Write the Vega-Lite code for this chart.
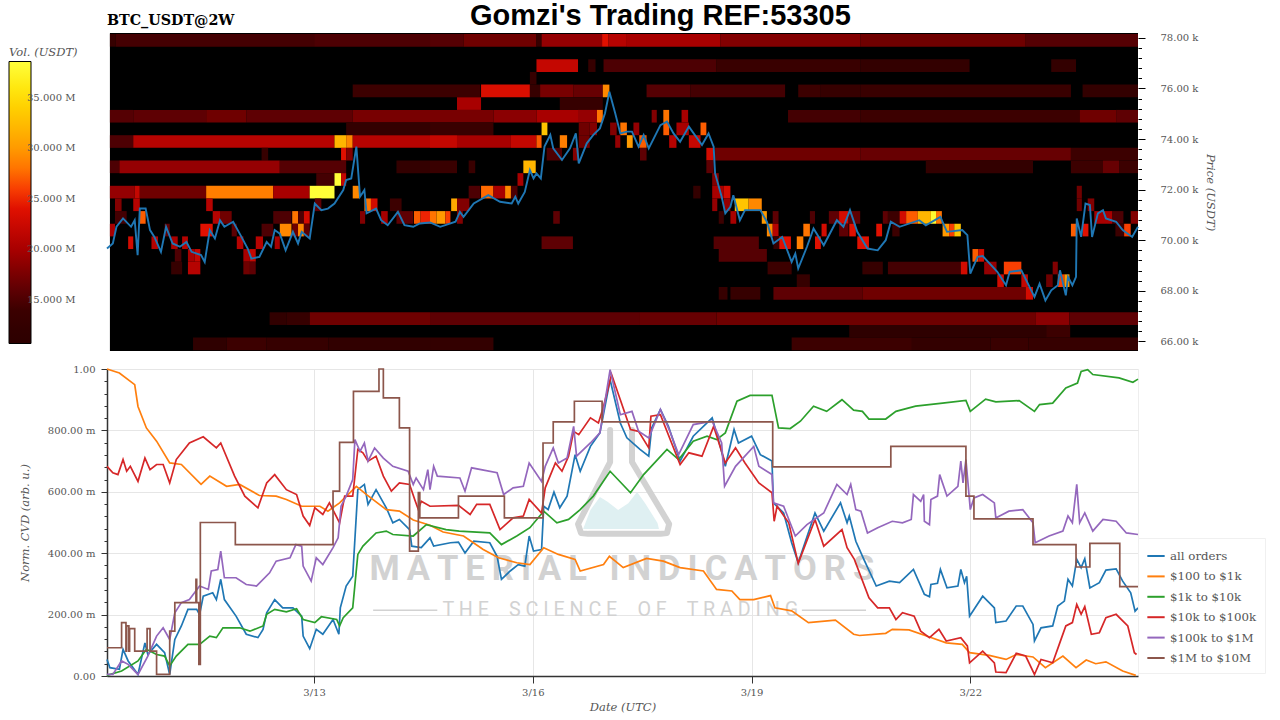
{
"$schema":"https://vega.github.io/schema/vega-lite/v6.json",
"padding":{"left":9,"top":1,"right":10,"bottom":0},
"background":"white",
"config":{"font":"DejaVu Serif","axis":{"labelFontSize":10,"labelColor":"#555555","titleColor":"#555555","titleFontSize":11.5,"titleFontStyle":"italic","titleFontWeight":"normal","labelOverlap":false}},
"datasets":{
"backdrop":[{"d0":10.2,"d1":24.3,"p0":65620,"p1":78190}],
"heat":[
{"d0":10.2,"d1":10.28,"p0":77650,"p1":78150,"v":13},{"d0":10.28,"d1":13.0,"p0":77650,"p1":78150,"v":14.5},{"d0":13.0,"d1":14.59,"p0":77650,"p1":78150,"v":15},{"d0":14.59,"d1":15.05,"p0":77650,"p1":78150,"v":15.5},{"d0":15.05,"d1":16.05,"p0":77650,"p1":78150,"v":17},{"d0":16.05,"d1":16.12,"p0":77650,"p1":78150,"v":13},{"d0":16.12,"d1":16.95,"p0":77650,"p1":78150,"v":19},{"d0":16.95,"d1":17.04,"p0":77650,"p1":78150,"v":24},{"d0":17.04,"d1":17.29,"p0":77650,"p1":78150,"v":21},{"d0":17.29,"d1":18.57,"p0":77650,"p1":78150,"v":20},{"d0":18.57,"d1":20.49,"p0":77650,"p1":78150,"v":18},{"d0":20.49,"d1":22.76,"p0":77650,"p1":78150,"v":17},{"d0":22.76,"d1":24.3,"p0":77650,"p1":78150,"v":15.5},
{"d0":16.05,"d1":16.62,"p0":76650,"p1":77150,"v":22},{"d0":16.76,"d1":16.86,"p0":76650,"p1":77150,"v":13},{"d0":16.97,"d1":18.52,"p0":76650,"p1":77150,"v":15},{"d0":18.52,"d1":20.49,"p0":76650,"p1":77150,"v":13.5},{"d0":20.49,"d1":21.99,"p0":76650,"p1":77150,"v":12.5},{"d0":23.11,"d1":23.45,"p0":76650,"p1":77150,"v":12.5},
{"d0":15.96,"d1":16.05,"p0":76150,"p1":76650,"v":13},
{"d0":13.53,"d1":15.28,"p0":75650,"p1":76150,"v":14},{"d0":15.29,"d1":15.96,"p0":75650,"p1":76150,"v":23.5},{"d0":15.96,"d1":16.1,"p0":75650,"p1":76150,"v":13},{"d0":16.1,"d1":16.56,"p0":75650,"p1":76150,"v":17.5},{"d0":16.56,"d1":16.96,"p0":75650,"p1":76150,"v":16.5},{"d0":16.96,"d1":17.05,"p0":75650,"p1":76150,"v":29},{"d0":17.56,"d1":18.16,"p0":75650,"p1":76150,"v":15.5},{"d0":18.16,"d1":19.46,"p0":75650,"p1":76150,"v":14.5},{"d0":19.64,"d1":19.94,"p0":75650,"p1":76150,"v":14},{"d0":19.94,"d1":20.49,"p0":75650,"p1":76150,"v":13},{"d0":20.49,"d1":23.38,"p0":75650,"p1":76150,"v":13.5},{"d0":23.54,"d1":24.3,"p0":75650,"p1":76150,"v":12.5},
{"d0":14.96,"d1":15.29,"p0":75150,"p1":75650,"v":20},{"d0":16.37,"d1":16.96,"p0":75150,"p1":75650,"v":13},
{"d0":10.2,"d1":10.52,"p0":74650,"p1":75150,"v":15.5},{"d0":10.52,"d1":11.52,"p0":74650,"p1":75150,"v":16},{"d0":11.52,"d1":12.07,"p0":74650,"p1":75150,"v":17},{"d0":12.07,"d1":13.53,"p0":74650,"p1":75150,"v":16},{"d0":13.53,"d1":15.46,"p0":74650,"p1":75150,"v":17.5},{"d0":15.46,"d1":16.05,"p0":74650,"p1":75150,"v":18.5},{"d0":16.05,"d1":16.62,"p0":74650,"p1":75150,"v":20},{"d0":16.62,"d1":16.88,"p0":74650,"p1":75150,"v":19},{"d0":16.88,"d1":16.96,"p0":74650,"p1":75150,"v":28},{"d0":17.63,"d1":17.7,"p0":74650,"p1":75150,"v":18},{"d0":17.79,"d1":17.87,"p0":74650,"p1":75150,"v":28},{"d0":18.04,"d1":18.13,"p0":74650,"p1":75150,"v":20},{"d0":19.5,"d1":20.49,"p0":74650,"p1":75150,"v":14.5},{"d0":20.49,"d1":23.5,"p0":74650,"p1":75150,"v":14},{"d0":23.5,"d1":24.0,"p0":74650,"p1":75150,"v":17},{"d0":24.0,"d1":24.3,"p0":74650,"p1":75150,"v":16},
{"d0":13.44,"d1":14.59,"p0":74150,"p1":74650,"v":12.5},{"d0":14.59,"d1":15.46,"p0":74150,"p1":74650,"v":13.5},{"d0":16.12,"d1":16.2,"p0":74150,"p1":74650,"v":33},{"d0":16.63,"d1":16.78,"p0":74150,"p1":74650,"v":17},{"d0":16.78,"d1":16.88,"p0":74150,"p1":74650,"v":18},{"d0":17.06,"d1":17.15,"p0":74150,"p1":74650,"v":18},{"d0":17.2,"d1":17.29,"p0":74150,"p1":74650,"v":28},{"d0":17.38,"d1":17.46,"p0":74150,"p1":74650,"v":19},{"d0":17.79,"d1":17.87,"p0":74150,"p1":74650,"v":27},{"d0":17.97,"d1":18.14,"p0":74150,"p1":74650,"v":20},{"d0":18.3,"d1":18.38,"p0":74150,"p1":74650,"v":27},
{"d0":10.2,"d1":10.52,"p0":73650,"p1":74150,"v":15},{"d0":10.52,"d1":13.28,"p0":73650,"p1":74150,"v":21},{"d0":13.28,"d1":13.44,"p0":73650,"p1":74150,"v":32},{"d0":13.44,"d1":13.53,"p0":73650,"p1":74150,"v":29},{"d0":13.53,"d1":14.59,"p0":73650,"p1":74150,"v":21},{"d0":14.59,"d1":14.96,"p0":73650,"p1":74150,"v":22},{"d0":14.96,"d1":15.7,"p0":73650,"p1":74150,"v":20},{"d0":15.7,"d1":16.05,"p0":73650,"p1":74150,"v":22},{"d0":16.05,"d1":16.12,"p0":73650,"p1":74150,"v":27},{"d0":16.37,"d1":16.47,"p0":73650,"p1":74150,"v":28.5},{"d0":16.63,"d1":16.78,"p0":73650,"p1":74150,"v":17},{"d0":17.13,"d1":17.2,"p0":73650,"p1":74150,"v":19},{"d0":17.29,"d1":17.37,"p0":73650,"p1":74150,"v":30},{"d0":17.46,"d1":17.56,"p0":73650,"p1":74150,"v":27},{"d0":17.87,"d1":17.97,"p0":73650,"p1":74150,"v":21},{"d0":18.14,"d1":18.3,"p0":73650,"p1":74150,"v":22},
{"d0":12.28,"d1":12.37,"p0":73150,"p1":73650,"v":13},{"d0":13.37,"d1":13.44,"p0":73150,"p1":73650,"v":24},{"d0":13.44,"d1":13.53,"p0":73150,"p1":73650,"v":18},{"d0":16.19,"d1":16.4,"p0":73150,"p1":73650,"v":15},{"d0":16.55,"d1":16.63,"p0":73150,"p1":73650,"v":18},{"d0":17.47,"d1":17.56,"p0":73150,"p1":73650,"v":16},{"d0":18.38,"d1":18.48,"p0":73150,"p1":73650,"v":23},{"d0":18.5,"d1":20.49,"p0":73150,"p1":73650,"v":17},{"d0":20.49,"d1":23.38,"p0":73150,"p1":73650,"v":16.5},{"d0":23.38,"d1":24.3,"p0":73150,"p1":73650,"v":14},
{"d0":10.2,"d1":10.33,"p0":72650,"p1":73150,"v":15},{"d0":10.33,"d1":12.53,"p0":72650,"p1":73150,"v":19},{"d0":12.53,"d1":13.44,"p0":72650,"p1":73150,"v":15.5},{"d0":14.13,"d1":14.59,"p0":72650,"p1":73150,"v":12.5},{"d0":14.59,"d1":14.96,"p0":72650,"p1":73150,"v":13.5},{"d0":15.12,"d1":15.21,"p0":72650,"p1":73150,"v":13.5},{"d0":15.87,"d1":16.04,"p0":72650,"p1":73150,"v":32},{"d0":18.38,"d1":18.48,"p0":72650,"p1":73150,"v":16},{"d0":21.39,"d1":22.86,"p0":72650,"p1":73150,"v":12.5},{"d0":23.38,"d1":23.82,"p0":72650,"p1":73150,"v":14},{"d0":23.82,"d1":24.04,"p0":72650,"p1":73150,"v":16.5},{"d0":24.04,"d1":24.3,"p0":72650,"p1":73150,"v":14},
{"d0":13.03,"d1":13.28,"p0":72150,"p1":72650,"v":14.5},{"d0":13.28,"d1":13.37,"p0":72150,"p1":72650,"v":38.5},{"d0":13.37,"d1":13.44,"p0":72150,"p1":72650,"v":22},{"d0":15.79,"d1":15.87,"p0":72150,"p1":72650,"v":20},{"d0":18.46,"d1":18.55,"p0":72150,"p1":72650,"v":18},
{"d0":10.2,"d1":10.54,"p0":71650,"p1":72150,"v":19},{"d0":10.54,"d1":10.61,"p0":71650,"p1":72150,"v":22},{"d0":10.61,"d1":11.52,"p0":71650,"p1":72150,"v":17},{"d0":11.52,"d1":12.44,"p0":71650,"p1":72150,"v":28.5},{"d0":12.44,"d1":12.94,"p0":71650,"p1":72150,"v":20},{"d0":12.94,"d1":13.28,"p0":71650,"p1":72150,"v":38.5},{"d0":13.53,"d1":13.62,"p0":71650,"p1":72150,"v":29},{"d0":15.12,"d1":15.28,"p0":71650,"p1":72150,"v":15},{"d0":15.29,"d1":15.46,"p0":71650,"p1":72150,"v":27.5},{"d0":15.46,"d1":15.62,"p0":71650,"p1":72150,"v":20},{"d0":15.62,"d1":15.7,"p0":71650,"p1":72150,"v":29},{"d0":15.7,"d1":15.79,"p0":71650,"p1":72150,"v":15},{"d0":18.2,"d1":18.3,"p0":71650,"p1":72150,"v":12.5},{"d0":18.46,"d1":18.62,"p0":71650,"p1":72150,"v":20},{"d0":18.62,"d1":18.71,"p0":71650,"p1":72150,"v":23},{"d0":23.46,"d1":23.53,"p0":71650,"p1":72150,"v":17},
{"d0":10.27,"d1":10.36,"p0":71150,"p1":71650,"v":18},{"d0":10.52,"d1":10.61,"p0":71150,"p1":71650,"v":21},{"d0":11.52,"d1":11.61,"p0":71150,"p1":71650,"v":21},{"d0":13.01,"d1":13.1,"p0":71150,"p1":71650,"v":16},{"d0":13.69,"d1":13.78,"p0":71150,"p1":71650,"v":28},{"d0":13.78,"d1":13.87,"p0":71150,"p1":71650,"v":23},{"d0":14.04,"d1":14.2,"p0":71150,"p1":71650,"v":14},{"d0":14.88,"d1":14.96,"p0":71150,"p1":71650,"v":31},{"d0":14.96,"d1":15.13,"p0":71150,"p1":71650,"v":18},{"d0":18.46,"d1":18.53,"p0":71150,"p1":71650,"v":19},{"d0":18.62,"d1":18.71,"p0":71150,"p1":71650,"v":19},{"d0":18.77,"d1":18.96,"p0":71150,"p1":71650,"v":33},{"d0":18.96,"d1":19.14,"p0":71150,"p1":71650,"v":29},{"d0":23.46,"d1":23.53,"p0":71150,"p1":71650,"v":17},{"d0":23.61,"d1":23.7,"p0":71150,"p1":71650,"v":18},
{"d0":10.27,"d1":10.43,"p0":70650,"p1":71150,"v":14.5},{"d0":10.6,"d1":10.69,"p0":70650,"p1":71150,"v":27},{"d0":11.61,"d1":11.71,"p0":70650,"p1":71150,"v":21},{"d0":11.71,"d1":11.87,"p0":70650,"p1":71150,"v":17},{"d0":12.44,"d1":12.69,"p0":70650,"p1":71150,"v":15},{"d0":12.7,"d1":12.78,"p0":70650,"p1":71150,"v":28},{"d0":12.78,"d1":12.86,"p0":70650,"p1":71150,"v":15},{"d0":12.86,"d1":12.94,"p0":70650,"p1":71150,"v":23},{"d0":13.63,"d1":13.7,"p0":70650,"p1":71150,"v":18},{"d0":13.92,"d1":14.01,"p0":70650,"p1":71150,"v":20},{"d0":14.13,"d1":14.36,"p0":70650,"p1":71150,"v":16},{"d0":14.37,"d1":14.46,"p0":70650,"p1":71150,"v":27},{"d0":14.46,"d1":14.59,"p0":70650,"p1":71150,"v":25},{"d0":14.59,"d1":14.68,"p0":70650,"p1":71150,"v":28},{"d0":14.68,"d1":14.8,"p0":70650,"p1":71150,"v":30},{"d0":14.8,"d1":14.87,"p0":70650,"p1":71150,"v":26},{"d0":14.96,"d1":15.04,"p0":70650,"p1":71150,"v":18},{"d0":16.28,"d1":16.37,"p0":70650,"p1":71150,"v":16},{"d0":18.55,"d1":18.62,"p0":70650,"p1":71150,"v":14},{"d0":18.71,"d1":18.79,"p0":70650,"p1":71150,"v":20},{"d0":19.14,"d1":19.21,"p0":70650,"p1":71150,"v":30},{"d0":19.29,"d1":19.37,"p0":70650,"p1":71150,"v":16},{"d0":19.8,"d1":19.87,"p0":70650,"p1":71150,"v":15},{"d0":20.06,"d1":20.2,"p0":70650,"p1":71150,"v":16},{"d0":20.2,"d1":20.33,"p0":70650,"p1":71150,"v":23},{"d0":20.33,"d1":20.49,"p0":70650,"p1":71150,"v":16},{"d0":20.8,"d1":20.87,"p0":70650,"p1":71150,"v":16},{"d0":20.87,"d1":21.03,"p0":70650,"p1":71150,"v":14},{"d0":21.03,"d1":21.12,"p0":70650,"p1":71150,"v":23},{"d0":21.12,"d1":21.28,"p0":70650,"p1":71150,"v":27},{"d0":21.28,"d1":21.46,"p0":70650,"p1":71150,"v":32},{"d0":21.46,"d1":21.53,"p0":70650,"p1":71150,"v":38},{"d0":21.53,"d1":21.61,"p0":70650,"p1":71150,"v":28},{"d0":23.7,"d1":23.95,"p0":70650,"p1":71150,"v":20},{"d0":23.95,"d1":24.1,"p0":70650,"p1":71150,"v":15},{"d0":24.2,"d1":24.3,"p0":70650,"p1":71150,"v":18},
{"d0":10.2,"d1":10.27,"p0":70150,"p1":70650,"v":20},{"d0":10.95,"d1":11.02,"p0":70150,"p1":70650,"v":16},{"d0":11.44,"d1":11.61,"p0":70150,"p1":70650,"v":24},{"d0":11.87,"d1":11.94,"p0":70150,"p1":70650,"v":16},{"d0":12.28,"d1":12.44,"p0":70150,"p1":70650,"v":15},{"d0":12.53,"d1":12.69,"p0":70150,"p1":70650,"v":29},{"d0":12.7,"d1":12.78,"p0":70150,"p1":70650,"v":17},{"d0":12.78,"d1":12.86,"p0":70150,"p1":70650,"v":29},{"d0":12.86,"d1":12.94,"p0":70150,"p1":70650,"v":16},{"d0":19.21,"d1":19.29,"p0":70150,"p1":70650,"v":29},{"d0":19.29,"d1":19.37,"p0":70150,"p1":70650,"v":21},{"d0":19.71,"d1":19.8,"p0":70150,"p1":70650,"v":28},{"d0":19.96,"d1":20.03,"p0":70150,"p1":70650,"v":23},{"d0":20.2,"d1":20.33,"p0":70150,"p1":70650,"v":16},{"d0":20.34,"d1":20.43,"p0":70150,"p1":70650,"v":24},{"d0":20.71,"d1":20.79,"p0":70150,"p1":70650,"v":24},{"d0":20.93,"d1":21.03,"p0":70150,"p1":70650,"v":14},{"d0":21.62,"d1":21.71,"p0":70150,"p1":70650,"v":30},{"d0":21.71,"d1":21.78,"p0":70150,"p1":70650,"v":26},{"d0":21.78,"d1":21.87,"p0":70150,"p1":70650,"v":33},{"d0":23.38,"d1":23.45,"p0":70150,"p1":70650,"v":27},{"d0":23.54,"d1":23.62,"p0":70150,"p1":70650,"v":24},{"d0":23.99,"d1":24.11,"p0":70150,"p1":70650,"v":14},{"d0":24.11,"d1":24.2,"p0":70150,"p1":70650,"v":26},
{"d0":10.45,"d1":10.52,"p0":69650,"p1":70150,"v":23},{"d0":10.77,"d1":10.86,"p0":69650,"p1":70150,"v":21},{"d0":11.04,"d1":11.13,"p0":69650,"p1":70150,"v":20},{"d0":11.19,"d1":11.27,"p0":69650,"p1":70150,"v":21},{"d0":11.94,"d1":12.03,"p0":69650,"p1":70150,"v":21},{"d0":12.2,"d1":12.3,"p0":69650,"p1":70150,"v":21},{"d0":12.46,"d1":12.53,"p0":69650,"p1":70150,"v":20},{"d0":16.12,"d1":16.55,"p0":69650,"p1":70150,"v":16},{"d0":18.48,"d1":19.1,"p0":69650,"p1":70150,"v":15.5},{"d0":19.3,"d1":19.38,"p0":69650,"p1":70150,"v":13},{"d0":19.38,"d1":19.54,"p0":69650,"p1":70150,"v":24},{"d0":19.62,"d1":19.71,"p0":69650,"p1":70150,"v":28.5},{"d0":19.87,"d1":19.95,"p0":69650,"p1":70150,"v":24},{"d0":20.45,"d1":20.61,"p0":69650,"p1":70150,"v":24},
{"d0":11.09,"d1":11.18,"p0":69150,"p1":69650,"v":15},{"d0":11.27,"d1":11.36,"p0":69150,"p1":69650,"v":20},{"d0":11.36,"d1":11.44,"p0":69150,"p1":69650,"v":22},{"d0":12.03,"d1":12.12,"p0":69150,"p1":69650,"v":20},{"d0":12.12,"d1":12.2,"p0":69150,"p1":69650,"v":22},{"d0":18.55,"d1":19.21,"p0":69150,"p1":69650,"v":15.5},{"d0":22.03,"d1":22.11,"p0":69150,"p1":69650,"v":27},{"d0":22.11,"d1":22.19,"p0":69150,"p1":69650,"v":23},
{"d0":11.27,"d1":11.44,"p0":68650,"p1":69150,"v":21},{"d0":11.04,"d1":11.19,"p0":68650,"p1":69150,"v":13},{"d0":12.03,"d1":12.12,"p0":68650,"p1":69150,"v":17},{"d0":12.12,"d1":12.2,"p0":68650,"p1":69150,"v":16},{"d0":19.22,"d1":19.55,"p0":68650,"p1":69150,"v":14},{"d0":20.52,"d1":20.8,"p0":68650,"p1":69150,"v":13},{"d0":20.87,"d1":21.87,"p0":68650,"p1":69150,"v":14.5},{"d0":21.87,"d1":21.96,"p0":68650,"p1":69150,"v":23},{"d0":22.19,"d1":22.36,"p0":68650,"p1":69150,"v":19},{"d0":22.46,"d1":22.7,"p0":68650,"p1":69150,"v":26},{"d0":23.13,"d1":23.2,"p0":68650,"p1":69150,"v":18},
{"d0":19.62,"d1":19.8,"p0":68150,"p1":68650,"v":13},{"d0":22.37,"d1":22.46,"p0":68150,"p1":68650,"v":23},{"d0":22.7,"d1":22.79,"p0":68150,"p1":68650,"v":22},{"d0":23.04,"d1":23.13,"p0":68150,"p1":68650,"v":17},{"d0":23.2,"d1":23.29,"p0":68150,"p1":68650,"v":26},{"d0":23.29,"d1":23.36,"p0":68150,"p1":68650,"v":30},
{"d0":18.55,"d1":18.67,"p0":67650,"p1":68150,"v":13},{"d0":18.71,"d1":19.12,"p0":67650,"p1":68150,"v":13},{"d0":19.3,"d1":20.52,"p0":67650,"p1":68150,"v":16},{"d0":20.52,"d1":22.76,"p0":67650,"p1":68150,"v":17},{"d0":22.76,"d1":22.86,"p0":67650,"p1":68150,"v":23},
{"d0":12.39,"d1":12.62,"p0":66650,"p1":67150,"v":12},{"d0":12.62,"d1":12.94,"p0":66650,"p1":67150,"v":13},{"d0":12.94,"d1":14.59,"p0":66650,"p1":67150,"v":17},{"d0":14.59,"d1":17.47,"p0":66650,"p1":67150,"v":16},{"d0":17.47,"d1":18.52,"p0":66650,"p1":67150,"v":16.5},{"d0":18.52,"d1":22.9,"p0":66650,"p1":67150,"v":17},{"d0":22.9,"d1":23.36,"p0":66650,"p1":67150,"v":18.5},{"d0":23.36,"d1":24.3,"p0":66650,"p1":67150,"v":16},
{"d0":20.34,"d1":23.04,"p0":66150,"p1":66650,"v":11},{"d0":23.04,"d1":23.37,"p0":66150,"p1":66650,"v":14},
{"d0":11.34,"d1":11.8,"p0":65650,"p1":66150,"v":11.5},{"d0":11.8,"d1":12.35,"p0":65650,"p1":66150,"v":14},{"d0":12.35,"d1":13.2,"p0":65650,"p1":66150,"v":13},{"d0":13.2,"d1":14.59,"p0":65650,"p1":66150,"v":12},{"d0":14.59,"d1":15.46,"p0":65650,"p1":66150,"v":12.5},{"d0":19.55,"d1":21.2,"p0":65650,"p1":66150,"v":14},{"d0":21.2,"d1":22.28,"p0":65650,"p1":66150,"v":12.5},{"d0":22.28,"d1":22.8,"p0":65650,"p1":66150,"v":13.5},{"d0":22.8,"d1":24.3,"p0":65650,"p1":66150,"v":13}
],
"price":[
{"d":10.16,"p":69670},{"d":10.24,"p":69870},{"d":10.29,"p":70530},{"d":10.38,"p":70860},{"d":10.49,"p":70530},{"d":10.54,"p":70790},{"d":10.58,"p":69410},{"d":10.61,"p":71250},{"d":10.69,"p":71250},{"d":10.75,"p":70400},{"d":10.81,"p":70130},{"d":10.9,"p":69540},{"d":10.97,"p":70530},{"d":11.06,"p":69870},{"d":11.16,"p":69740},{"d":11.25,"p":69930},{"d":11.32,"p":69540},{"d":11.45,"p":69410},{"d":11.5,"p":69140},{"d":11.57,"p":70400},{"d":11.64,"p":70070},{"d":11.71,"p":70790},{"d":11.77,"p":70530},{"d":11.89,"p":70730},{"d":11.98,"p":70260},{"d":12.09,"p":69670},{"d":12.14,"p":69270},{"d":12.25,"p":69340},{"d":12.35,"p":69930},{"d":12.41,"p":69740},{"d":12.46,"p":70400},{"d":12.53,"p":70260},{"d":12.61,"p":69600},{"d":12.71,"p":70330},{"d":12.78,"p":69870},{"d":12.83,"p":70330},{"d":12.94,"p":70070},{"d":13.01,"p":71450},{"d":13.1,"p":71190},{"d":13.19,"p":71250},{"d":13.28,"p":71450},{"d":13.4,"p":71980},{"d":13.44,"p":72380},{"d":13.51,"p":72440},{"d":13.58,"p":73700},{"d":13.63,"p":71720},{"d":13.69,"p":71980},{"d":13.72,"p":71060},{"d":13.85,"p":71250},{"d":13.92,"p":70790},{"d":14.01,"p":70590},{"d":14.15,"p":71120},{"d":14.24,"p":70590},{"d":14.36,"p":70530},{"d":14.45,"p":70660},{"d":14.59,"p":70700},{"d":14.73,"p":70530},{"d":14.94,"p":70730},{"d":15.0,"p":71120},{"d":15.05,"p":70920},{"d":15.19,"p":71450},{"d":15.39,"p":71780},{"d":15.55,"p":71520},{"d":15.71,"p":71450},{"d":15.76,"p":71720},{"d":15.8,"p":71450},{"d":15.89,"p":71910},{"d":15.96,"p":72770},{"d":16.01,"p":72440},{"d":16.05,"p":72640},{"d":16.11,"p":72440},{"d":16.16,"p":73700},{"d":16.24,"p":74160},{"d":16.28,"p":73630},{"d":16.4,"p":73170},{"d":16.51,"p":73630},{"d":16.59,"p":74220},{"d":16.63,"p":73040},{"d":16.74,"p":73830},{"d":16.83,"p":74160},{"d":16.92,"p":74420},{"d":16.99,"p":75020},{"d":17.05,"p":75870},{"d":17.13,"p":75020},{"d":17.2,"p":74220},{"d":17.29,"p":74290},{"d":17.36,"p":74290},{"d":17.45,"p":73700},{"d":17.52,"p":74160},{"d":17.59,"p":73630},{"d":17.75,"p":74550},{"d":17.84,"p":74690},{"d":17.93,"p":74220},{"d":18.02,"p":73890},{"d":18.14,"p":74490},{"d":18.32,"p":73760},{"d":18.41,"p":74220},{"d":18.48,"p":73700},{"d":18.5,"p":72640},{"d":18.59,"p":71720},{"d":18.64,"p":71060},{"d":18.71,"p":71320},{"d":18.75,"p":71780},{"d":18.84,"p":70790},{"d":18.91,"p":71190},{"d":19.12,"p":71190},{"d":19.21,"p":70730},{"d":19.3,"p":69870},{"d":19.42,"p":70130},{"d":19.55,"p":69140},{"d":19.6,"p":69470},{"d":19.64,"p":68880},{"d":19.76,"p":69740},{"d":19.85,"p":70460},{"d":19.99,"p":69800},{"d":20.17,"p":70790},{"d":20.26,"p":70530},{"d":20.35,"p":71190},{"d":20.45,"p":70330},{"d":20.59,"p":69670},{"d":20.73,"p":69600},{"d":20.84,"p":70000},{"d":20.91,"p":70730},{"d":21.03,"p":70530},{"d":21.3,"p":70790},{"d":21.39,"p":70590},{"d":21.59,"p":70920},{"d":21.68,"p":70330},{"d":21.89,"p":70400},{"d":21.96,"p":70200},{"d":22.0,"p":68680},{"d":22.1,"p":69340},{"d":22.17,"p":69370},{"d":22.33,"p":68880},{"d":22.37,"p":68750},{"d":22.49,"p":68220},{"d":22.54,"p":68750},{"d":22.7,"p":68810},{"d":22.88,"p":67760},{"d":22.95,"p":68280},{"d":23.03,"p":67620},{"d":23.11,"p":68020},{"d":23.2,"p":68220},{"d":23.23,"p":68810},{"d":23.31,"p":67820},{"d":23.34,"p":68550},{"d":23.4,"p":68220},{"d":23.45,"p":68550},{"d":23.46,"p":70860},{"d":23.52,"p":70130},{"d":23.58,"p":71450},{"d":23.64,"p":71390},{"d":23.67,"p":70130},{"d":23.75,"p":71060},{"d":23.82,"p":71190},{"d":23.86,"p":70860},{"d":24.0,"p":70730},{"d":24.09,"p":70400},{"d":24.22,"p":70130},{"d":24.3,"p":70530}
],
"cvd":[
{"s":"all orders","d":10.16,"v":0.054},{"s":"all orders","d":10.2,"v":0.027},{"s":"all orders","d":10.33,"v":0.022},{"s":"all orders","d":10.38,"v":0.087},{"s":"all orders","d":10.45,"v":0.049},{"s":"all orders","d":10.585,"v":0.005},{"s":"all orders","d":10.68,"v":0.108},{"s":"all orders","d":10.72,"v":0.07},{"s":"all orders","d":10.84,"v":0.103},{"s":"all orders","d":10.95,"v":0.076},{"s":"all orders","d":11.02,"v":0.005},{"s":"all orders","d":11.09,"v":0.119},{"s":"all orders","d":11.18,"v":0.163},{"s":"all orders","d":11.27,"v":0.217},{"s":"all orders","d":11.39,"v":0.217},{"s":"all orders","d":11.43,"v":0.2},{"s":"all orders","d":11.48,"v":0.26},{"s":"all orders","d":11.61,"v":0.271},{"s":"all orders","d":11.66,"v":0.249},{"s":"all orders","d":11.72,"v":0.315},{"s":"all orders","d":11.77,"v":0.249},{"s":"all orders","d":11.93,"v":0.195},{"s":"all orders","d":12.07,"v":0.136},{"s":"all orders","d":12.23,"v":0.125},{"s":"all orders","d":12.3,"v":0.152},{"s":"all orders","d":12.35,"v":0.206},{"s":"all orders","d":12.46,"v":0.249},{"s":"all orders","d":12.57,"v":0.222},{"s":"all orders","d":12.71,"v":0.222},{"s":"all orders","d":12.83,"v":0.195},{"s":"all orders","d":12.85,"v":0.13},{"s":"all orders","d":12.94,"v":0.089},{"s":"all orders","d":13.03,"v":0.152},{"s":"all orders","d":13.12,"v":0.136},{"s":"all orders","d":13.26,"v":0.184},{"s":"all orders","d":13.34,"v":0.136},{"s":"all orders","d":13.36,"v":0.222},{"s":"all orders","d":13.44,"v":0.293},{"s":"all orders","d":13.53,"v":0.325},{"s":"all orders","d":13.6,"v":0.607},{"s":"all orders","d":13.69,"v":0.624},{"s":"all orders","d":13.74,"v":0.559},{"s":"all orders","d":13.85,"v":0.607},{"s":"all orders","d":13.99,"v":0.548},{"s":"all orders","d":14.08,"v":0.499},{"s":"all orders","d":14.17,"v":0.51},{"s":"all orders","d":14.31,"v":0.477},{"s":"all orders","d":14.34,"v":0.423},{"s":"all orders","d":14.47,"v":0.418},{"s":"all orders","d":14.59,"v":0.45},{"s":"all orders","d":14.64,"v":0.423},{"s":"all orders","d":14.87,"v":0.434},{"s":"all orders","d":14.98,"v":0.436},{"s":"all orders","d":15.07,"v":0.401},{"s":"all orders","d":15.19,"v":0.439},{"s":"all orders","d":15.41,"v":0.434},{"s":"all orders","d":15.51,"v":0.39},{"s":"all orders","d":15.57,"v":0.315},{"s":"all orders","d":15.69,"v":0.342},{"s":"all orders","d":15.8,"v":0.363},{"s":"all orders","d":15.89,"v":0.358},{"s":"all orders","d":15.95,"v":0.456},{"s":"all orders","d":16.01,"v":0.407},{"s":"all orders","d":16.12,"v":0.412},{"s":"all orders","d":16.15,"v":0.553},{"s":"all orders","d":16.21,"v":0.542},{"s":"all orders","d":16.29,"v":0.599},{"s":"all orders","d":16.37,"v":0.548},{"s":"all orders","d":16.47,"v":0.586},{"s":"all orders","d":16.58,"v":0.721},{"s":"all orders","d":16.65,"v":0.667},{"s":"all orders","d":16.79,"v":0.748},{"s":"all orders","d":16.92,"v":0.792},{"s":"all orders","d":17.06,"v":0.965},{"s":"all orders","d":17.2,"v":0.824},{"s":"all orders","d":17.29,"v":0.776},{"s":"all orders","d":17.47,"v":0.738},{"s":"all orders","d":17.59,"v":0.716},{"s":"all orders","d":17.63,"v":0.808},{"s":"all orders","d":17.75,"v":0.868},{"s":"all orders","d":17.86,"v":0.813},{"s":"all orders","d":18.02,"v":0.7},{"s":"all orders","d":18.2,"v":0.781},{"s":"all orders","d":18.46,"v":0.841},{"s":"all orders","d":18.57,"v":0.748},{"s":"all orders","d":18.64,"v":0.683},{"s":"all orders","d":18.76,"v":0.803},{"s":"all orders","d":18.82,"v":0.759},{"s":"all orders","d":19.0,"v":0.781},{"s":"all orders","d":19.12,"v":0.721},{"s":"all orders","d":19.28,"v":0.7},{"s":"all orders","d":19.3,"v":0.564},{"s":"all orders","d":19.44,"v":0.531},{"s":"all orders","d":19.55,"v":0.434},{"s":"all orders","d":19.64,"v":0.369},{"s":"all orders","d":19.87,"v":0.531},{"s":"all orders","d":19.99,"v":0.472},{"s":"all orders","d":20.22,"v":0.564},{"s":"all orders","d":20.31,"v":0.499},{"s":"all orders","d":20.34,"v":0.521},{"s":"all orders","d":20.43,"v":0.439},{"s":"all orders","d":20.54,"v":0.38},{"s":"all orders","d":20.71,"v":0.293},{"s":"all orders","d":20.89,"v":0.309},{"s":"all orders","d":21.03,"v":0.304},{"s":"all orders","d":21.22,"v":0.347},{"s":"all orders","d":21.37,"v":0.266},{"s":"all orders","d":21.44,"v":0.258},{"s":"all orders","d":21.46,"v":0.298},{"s":"all orders","d":21.55,"v":0.302},{"s":"all orders","d":21.59,"v":0.347},{"s":"all orders","d":21.68,"v":0.287},{"s":"all orders","d":21.83,"v":0.293},{"s":"all orders","d":21.87,"v":0.347},{"s":"all orders","d":21.92,"v":0.304},{"s":"all orders","d":21.95,"v":0.325},{"s":"all orders","d":21.99,"v":0.195},{"s":"all orders","d":22.17,"v":0.26},{"s":"all orders","d":22.33,"v":0.222},{"s":"all orders","d":22.35,"v":0.174},{"s":"all orders","d":22.49,"v":0.179},{"s":"all orders","d":22.63,"v":0.228},{"s":"all orders","d":22.72,"v":0.228},{"s":"all orders","d":22.86,"v":0.168},{"s":"all orders","d":22.88,"v":0.114},{"s":"all orders","d":22.97,"v":0.157},{"s":"all orders","d":23.13,"v":0.163},{"s":"all orders","d":23.2,"v":0.228},{"s":"all orders","d":23.29,"v":0.244},{"s":"all orders","d":23.34,"v":0.315},{"s":"all orders","d":23.4,"v":0.293},{"s":"all orders","d":23.46,"v":0.38},{"s":"all orders","d":23.52,"v":0.353},{"s":"all orders","d":23.57,"v":0.382},{"s":"all orders","d":23.64,"v":0.287},{"s":"all orders","d":23.77,"v":0.304},{"s":"all orders","d":23.86,"v":0.345},{"s":"all orders","d":24.0,"v":0.349},{"s":"all orders","d":24.09,"v":0.309},{"s":"all orders","d":24.2,"v":0.271},{"s":"all orders","d":24.26,"v":0.211},{"s":"all orders","d":24.3,"v":0.222},
{"s":"$100 to $1k","d":10.16,"v":1.0},{"s":"$100 to $1k","d":10.33,"v":0.987},{"s":"$100 to $1k","d":10.54,"v":0.949},{"s":"$100 to $1k","d":10.585,"v":0.878},{"s":"$100 to $1k","d":10.7,"v":0.808},{"s":"$100 to $1k","d":10.84,"v":0.765},{"s":"$100 to $1k","d":11.02,"v":0.694},{"s":"$100 to $1k","d":11.18,"v":0.689},{"s":"$100 to $1k","d":11.45,"v":0.624},{"s":"$100 to $1k","d":11.57,"v":0.651},{"s":"$100 to $1k","d":11.8,"v":0.618},{"s":"$100 to $1k","d":11.98,"v":0.624},{"s":"$100 to $1k","d":12.25,"v":0.588},{"s":"$100 to $1k","d":12.48,"v":0.586},{"s":"$100 to $1k","d":12.62,"v":0.575},{"s":"$100 to $1k","d":12.83,"v":0.553},{"s":"$100 to $1k","d":13.08,"v":0.553},{"s":"$100 to $1k","d":13.19,"v":0.537},{"s":"$100 to $1k","d":13.35,"v":0.564},{"s":"$100 to $1k","d":13.58,"v":0.618},{"s":"$100 to $1k","d":13.72,"v":0.591},{"s":"$100 to $1k","d":13.99,"v":0.542},{"s":"$100 to $1k","d":14.17,"v":0.537},{"s":"$100 to $1k","d":14.36,"v":0.508},{"s":"$100 to $1k","d":14.59,"v":0.491},{"s":"$100 to $1k","d":14.77,"v":0.469},{"s":"$100 to $1k","d":15.05,"v":0.456},{"s":"$100 to $1k","d":15.32,"v":0.412},{"s":"$100 to $1k","d":15.53,"v":0.385},{"s":"$100 to $1k","d":15.78,"v":0.369},{"s":"$100 to $1k","d":15.96,"v":0.363},{"s":"$100 to $1k","d":16.15,"v":0.418},{"s":"$100 to $1k","d":16.35,"v":0.396},{"s":"$100 to $1k","d":16.58,"v":0.38},{"s":"$100 to $1k","d":16.65,"v":0.342},{"s":"$100 to $1k","d":16.97,"v":0.363},{"s":"$100 to $1k","d":17.05,"v":0.39},{"s":"$100 to $1k","d":17.24,"v":0.353},{"s":"$100 to $1k","d":17.56,"v":0.383},{"s":"$100 to $1k","d":17.79,"v":0.374},{"s":"$100 to $1k","d":18.02,"v":0.353},{"s":"$100 to $1k","d":18.34,"v":0.342},{"s":"$100 to $1k","d":18.52,"v":0.282},{"s":"$100 to $1k","d":18.73,"v":0.277},{"s":"$100 to $1k","d":18.84,"v":0.249},{"s":"$100 to $1k","d":19.03,"v":0.249},{"s":"$100 to $1k","d":19.26,"v":0.262},{"s":"$100 to $1k","d":19.32,"v":0.222},{"s":"$100 to $1k","d":19.55,"v":0.212},{"s":"$100 to $1k","d":19.78,"v":0.174},{"s":"$100 to $1k","d":20.15,"v":0.182},{"s":"$100 to $1k","d":20.4,"v":0.136},{"s":"$100 to $1k","d":20.48,"v":0.132},{"s":"$100 to $1k","d":20.84,"v":0.139},{"s":"$100 to $1k","d":20.93,"v":0.152},{"s":"$100 to $1k","d":21.16,"v":0.15},{"s":"$100 to $1k","d":21.44,"v":0.127},{"s":"$100 to $1k","d":21.67,"v":0.108},{"s":"$100 to $1k","d":21.89,"v":0.103},{"s":"$100 to $1k","d":21.99,"v":0.076},{"s":"$100 to $1k","d":22.26,"v":0.067},{"s":"$100 to $1k","d":22.49,"v":0.054},{"s":"$100 to $1k","d":22.63,"v":0.07},{"s":"$100 to $1k","d":22.86,"v":0.062},{"s":"$100 to $1k","d":23.03,"v":0.027},{"s":"$100 to $1k","d":23.27,"v":0.065},{"s":"$100 to $1k","d":23.45,"v":0.027},{"s":"$100 to $1k","d":23.59,"v":0.052},{"s":"$100 to $1k","d":23.72,"v":0.04},{"s":"$100 to $1k","d":23.86,"v":0.046},{"s":"$100 to $1k","d":24.09,"v":0.016},{"s":"$100 to $1k","d":24.27,"v":0.002},
{"s":"$1k to $10k","d":10.16,"v":0.002},{"s":"$1k to $10k","d":10.36,"v":0.016},{"s":"$1k to $10k","d":10.585,"v":0.049},{"s":"$1k to $10k","d":10.7,"v":0.087},{"s":"$1k to $10k","d":10.84,"v":0.07},{"s":"$1k to $10k","d":10.95,"v":0.065},{"s":"$1k to $10k","d":11.02,"v":0.033},{"s":"$1k to $10k","d":11.11,"v":0.065},{"s":"$1k to $10k","d":11.27,"v":0.103},{"s":"$1k to $10k","d":11.43,"v":0.103},{"s":"$1k to $10k","d":11.57,"v":0.13},{"s":"$1k to $10k","d":11.66,"v":0.125},{"s":"$1k to $10k","d":11.75,"v":0.157},{"s":"$1k to $10k","d":11.98,"v":0.157},{"s":"$1k to $10k","d":12.12,"v":0.146},{"s":"$1k to $10k","d":12.3,"v":0.163},{"s":"$1k to $10k","d":12.35,"v":0.201},{"s":"$1k to $10k","d":12.46,"v":0.217},{"s":"$1k to $10k","d":12.62,"v":0.209},{"s":"$1k to $10k","d":12.76,"v":0.219},{"s":"$1k to $10k","d":12.85,"v":0.184},{"s":"$1k to $10k","d":13.01,"v":0.174},{"s":"$1k to $10k","d":13.1,"v":0.193},{"s":"$1k to $10k","d":13.31,"v":0.184},{"s":"$1k to $10k","d":13.35,"v":0.163},{"s":"$1k to $10k","d":13.4,"v":0.19},{"s":"$1k to $10k","d":13.53,"v":0.222},{"s":"$1k to $10k","d":13.6,"v":0.396},{"s":"$1k to $10k","d":13.67,"v":0.423},{"s":"$1k to $10k","d":13.85,"v":0.466},{"s":"$1k to $10k","d":13.99,"v":0.472},{"s":"$1k to $10k","d":14.08,"v":0.461},{"s":"$1k to $10k","d":14.36,"v":0.456},{"s":"$1k to $10k","d":14.54,"v":0.493},{"s":"$1k to $10k","d":14.81,"v":0.477},{"s":"$1k to $10k","d":14.99,"v":0.472},{"s":"$1k to $10k","d":15.41,"v":0.466},{"s":"$1k to $10k","d":15.57,"v":0.428},{"s":"$1k to $10k","d":15.78,"v":0.456},{"s":"$1k to $10k","d":15.96,"v":0.483},{"s":"$1k to $10k","d":16.15,"v":0.537},{"s":"$1k to $10k","d":16.33,"v":0.499},{"s":"$1k to $10k","d":16.49,"v":0.51},{"s":"$1k to $10k","d":16.65,"v":0.542},{"s":"$1k to $10k","d":16.83,"v":0.586},{"s":"$1k to $10k","d":17.06,"v":0.667},{"s":"$1k to $10k","d":17.34,"v":0.597},{"s":"$1k to $10k","d":17.52,"v":0.656},{"s":"$1k to $10k","d":17.84,"v":0.738},{"s":"$1k to $10k","d":18.0,"v":0.705},{"s":"$1k to $10k","d":18.2,"v":0.765},{"s":"$1k to $10k","d":18.39,"v":0.781},{"s":"$1k to $10k","d":18.52,"v":0.77},{"s":"$1k to $10k","d":18.64,"v":0.792},{"s":"$1k to $10k","d":18.8,"v":0.895},{"s":"$1k to $10k","d":18.98,"v":0.914},{"s":"$1k to $10k","d":19.28,"v":0.914},{"s":"$1k to $10k","d":19.37,"v":0.808},{"s":"$1k to $10k","d":19.53,"v":0.806},{"s":"$1k to $10k","d":19.67,"v":0.83},{"s":"$1k to $10k","d":19.85,"v":0.879},{"s":"$1k to $10k","d":20.03,"v":0.862},{"s":"$1k to $10k","d":20.24,"v":0.9},{"s":"$1k to $10k","d":20.4,"v":0.866},{"s":"$1k to $10k","d":20.52,"v":0.862},{"s":"$1k to $10k","d":20.61,"v":0.837},{"s":"$1k to $10k","d":20.84,"v":0.837},{"s":"$1k to $10k","d":20.98,"v":0.862},{"s":"$1k to $10k","d":21.25,"v":0.879},{"s":"$1k to $10k","d":21.62,"v":0.889},{"s":"$1k to $10k","d":21.94,"v":0.898},{"s":"$1k to $10k","d":22.0,"v":0.862},{"s":"$1k to $10k","d":22.21,"v":0.902},{"s":"$1k to $10k","d":22.35,"v":0.893},{"s":"$1k to $10k","d":22.67,"v":0.897},{"s":"$1k to $10k","d":22.88,"v":0.862},{"s":"$1k to $10k","d":22.95,"v":0.884},{"s":"$1k to $10k","d":23.13,"v":0.889},{"s":"$1k to $10k","d":23.31,"v":0.938},{"s":"$1k to $10k","d":23.47,"v":0.954},{"s":"$1k to $10k","d":23.52,"v":0.992},{"s":"$1k to $10k","d":23.61,"v":0.998},{"s":"$1k to $10k","d":23.68,"v":0.982},{"s":"$1k to $10k","d":24.04,"v":0.971},{"s":"$1k to $10k","d":24.23,"v":0.957},{"s":"$1k to $10k","d":24.3,"v":0.967},
{"s":"$10k to $100k","d":10.16,"v":0.683},{"s":"$10k to $100k","d":10.24,"v":0.662},{"s":"$10k to $100k","d":10.31,"v":0.656},{"s":"$10k to $100k","d":10.38,"v":0.705},{"s":"$10k to $100k","d":10.43,"v":0.667},{"s":"$10k to $100k","d":10.48,"v":0.683},{"s":"$10k to $100k","d":10.585,"v":0.634},{"s":"$10k to $100k","d":10.68,"v":0.71},{"s":"$10k to $100k","d":10.75,"v":0.672},{"s":"$10k to $100k","d":10.84,"v":0.689},{"s":"$10k to $100k","d":10.93,"v":0.689},{"s":"$10k to $100k","d":11.02,"v":0.629},{"s":"$10k to $100k","d":11.11,"v":0.705},{"s":"$10k to $100k","d":11.29,"v":0.759},{"s":"$10k to $100k","d":11.48,"v":0.779},{"s":"$10k to $100k","d":11.66,"v":0.743},{"s":"$10k to $100k","d":11.72,"v":0.759},{"s":"$10k to $100k","d":11.91,"v":0.651},{"s":"$10k to $100k","d":12.05,"v":0.586},{"s":"$10k to $100k","d":12.23,"v":0.548},{"s":"$10k to $100k","d":12.35,"v":0.629},{"s":"$10k to $100k","d":12.46,"v":0.656},{"s":"$10k to $100k","d":12.62,"v":0.607},{"s":"$10k to $100k","d":12.76,"v":0.591},{"s":"$10k to $100k","d":12.85,"v":0.521},{"s":"$10k to $100k","d":12.94,"v":0.49},{"s":"$10k to $100k","d":13.01,"v":0.548},{"s":"$10k to $100k","d":13.12,"v":0.526},{"s":"$10k to $100k","d":13.21,"v":0.564},{"s":"$10k to $100k","d":13.35,"v":0.499},{"s":"$10k to $100k","d":13.42,"v":0.586},{"s":"$10k to $100k","d":13.53,"v":0.586},{"s":"$10k to $100k","d":13.6,"v":0.738},{"s":"$10k to $100k","d":13.67,"v":0.727},{"s":"$10k to $100k","d":13.74,"v":0.7},{"s":"$10k to $100k","d":13.85,"v":0.716},{"s":"$10k to $100k","d":13.95,"v":0.651},{"s":"$10k to $100k","d":14.06,"v":0.602},{"s":"$10k to $100k","d":14.17,"v":0.629},{"s":"$10k to $100k","d":14.31,"v":0.624},{"s":"$10k to $100k","d":14.38,"v":0.575},{"s":"$10k to $100k","d":14.43,"v":0.542},{"s":"$10k to $100k","d":14.47,"v":0.569},{"s":"$10k to $100k","d":14.59,"v":0.553},{"s":"$10k to $100k","d":14.98,"v":0.556},{"s":"$10k to $100k","d":15.14,"v":0.526},{"s":"$10k to $100k","d":15.23,"v":0.559},{"s":"$10k to $100k","d":15.41,"v":0.559},{"s":"$10k to $100k","d":15.55,"v":0.477},{"s":"$10k to $100k","d":15.73,"v":0.515},{"s":"$10k to $100k","d":15.87,"v":0.521},{"s":"$10k to $100k","d":15.95,"v":0.575},{"s":"$10k to $100k","d":16.12,"v":0.531},{"s":"$10k to $100k","d":16.17,"v":0.613},{"s":"$10k to $100k","d":16.31,"v":0.694},{"s":"$10k to $100k","d":16.4,"v":0.667},{"s":"$10k to $100k","d":16.49,"v":0.716},{"s":"$10k to $100k","d":16.56,"v":0.797},{"s":"$10k to $100k","d":16.63,"v":0.786},{"s":"$10k to $100k","d":16.79,"v":0.841},{"s":"$10k to $100k","d":16.9,"v":0.824},{"s":"$10k to $100k","d":16.97,"v":0.878},{"s":"$10k to $100k","d":17.08,"v":0.982},{"s":"$10k to $100k","d":17.2,"v":0.9},{"s":"$10k to $100k","d":17.34,"v":0.803},{"s":"$10k to $100k","d":17.45,"v":0.797},{"s":"$10k to $100k","d":17.59,"v":0.743},{"s":"$10k to $100k","d":17.62,"v":0.846},{"s":"$10k to $100k","d":17.75,"v":0.851},{"s":"$10k to $100k","d":18.02,"v":0.689},{"s":"$10k to $100k","d":18.14,"v":0.727},{"s":"$10k to $100k","d":18.32,"v":0.716},{"s":"$10k to $100k","d":18.48,"v":0.813},{"s":"$10k to $100k","d":18.64,"v":0.694},{"s":"$10k to $100k","d":18.78,"v":0.743},{"s":"$10k to $100k","d":18.91,"v":0.694},{"s":"$10k to $100k","d":19.1,"v":0.629},{"s":"$10k to $100k","d":19.28,"v":0.597},{"s":"$10k to $100k","d":19.31,"v":0.504},{"s":"$10k to $100k","d":19.35,"v":0.553},{"s":"$10k to $100k","d":19.51,"v":0.499},{"s":"$10k to $100k","d":19.64,"v":0.367},{"s":"$10k to $100k","d":19.87,"v":0.51},{"s":"$10k to $100k","d":19.99,"v":0.423},{"s":"$10k to $100k","d":20.24,"v":0.477},{"s":"$10k to $100k","d":20.31,"v":0.418},{"s":"$10k to $100k","d":20.41,"v":0.38},{"s":"$10k to $100k","d":20.61,"v":0.255},{"s":"$10k to $100k","d":20.73,"v":0.222},{"s":"$10k to $100k","d":20.89,"v":0.222},{"s":"$10k to $100k","d":20.98,"v":0.184},{"s":"$10k to $100k","d":21.07,"v":0.206},{"s":"$10k to $100k","d":21.23,"v":0.195},{"s":"$10k to $100k","d":21.32,"v":0.146},{"s":"$10k to $100k","d":21.44,"v":0.125},{"s":"$10k to $100k","d":21.57,"v":0.152},{"s":"$10k to $100k","d":21.67,"v":0.114},{"s":"$10k to $100k","d":21.87,"v":0.125},{"s":"$10k to $100k","d":21.96,"v":0.098},{"s":"$10k to $100k","d":21.99,"v":0.043},{"s":"$10k to $100k","d":22.17,"v":0.081},{"s":"$10k to $100k","d":22.33,"v":0.043},{"s":"$10k to $100k","d":22.35,"v":0.013},{"s":"$10k to $100k","d":22.49,"v":0.011},{"s":"$10k to $100k","d":22.63,"v":0.074},{"s":"$10k to $100k","d":22.76,"v":0.065},{"s":"$10k to $100k","d":22.88,"v":0.005},{"s":"$10k to $100k","d":22.97,"v":0.054},{"s":"$10k to $100k","d":23.13,"v":0.043},{"s":"$10k to $100k","d":23.22,"v":0.103},{"s":"$10k to $100k","d":23.31,"v":0.163},{"s":"$10k to $100k","d":23.4,"v":0.174},{"s":"$10k to $100k","d":23.46,"v":0.233},{"s":"$10k to $100k","d":23.52,"v":0.201},{"s":"$10k to $100k","d":23.57,"v":0.226},{"s":"$10k to $100k","d":23.66,"v":0.136},{"s":"$10k to $100k","d":23.77,"v":0.141},{"s":"$10k to $100k","d":23.86,"v":0.19},{"s":"$10k to $100k","d":24.0,"v":0.201},{"s":"$10k to $100k","d":24.16,"v":0.163},{"s":"$10k to $100k","d":24.25,"v":0.076},{"s":"$10k to $100k","d":24.28,"v":0.07},
{"s":"$100k to $1M","d":10.16,"v":0.005},{"s":"$100k to $1M","d":10.24,"v":0.005},{"s":"$100k to $1M","d":10.36,"v":0.049},{"s":"$100k to $1M","d":10.45,"v":0.038},{"s":"$100k to $1M","d":10.585,"v":0.005},{"s":"$100k to $1M","d":10.72,"v":0.065},{"s":"$100k to $1M","d":10.84,"v":0.13},{"s":"$100k to $1M","d":10.93,"v":0.157},{"s":"$100k to $1M","d":11.02,"v":0.119},{"s":"$100k to $1M","d":11.09,"v":0.206},{"s":"$100k to $1M","d":11.18,"v":0.239},{"s":"$100k to $1M","d":11.29,"v":0.249},{"s":"$100k to $1M","d":11.43,"v":0.293},{"s":"$100k to $1M","d":11.55,"v":0.282},{"s":"$100k to $1M","d":11.59,"v":0.342},{"s":"$100k to $1M","d":11.68,"v":0.347},{"s":"$100k to $1M","d":11.72,"v":0.407},{"s":"$100k to $1M","d":11.77,"v":0.32},{"s":"$100k to $1M","d":11.93,"v":0.32},{"s":"$100k to $1M","d":12.07,"v":0.298},{"s":"$100k to $1M","d":12.21,"v":0.293},{"s":"$100k to $1M","d":12.39,"v":0.336},{"s":"$100k to $1M","d":12.48,"v":0.374},{"s":"$100k to $1M","d":12.67,"v":0.385},{"s":"$100k to $1M","d":12.75,"v":0.428},{"s":"$100k to $1M","d":12.83,"v":0.423},{"s":"$100k to $1M","d":12.85,"v":0.358},{"s":"$100k to $1M","d":12.96,"v":0.309},{"s":"$100k to $1M","d":13.03,"v":0.385},{"s":"$100k to $1M","d":13.12,"v":0.363},{"s":"$100k to $1M","d":13.26,"v":0.418},{"s":"$100k to $1M","d":13.33,"v":0.45},{"s":"$100k to $1M","d":13.37,"v":0.553},{"s":"$100k to $1M","d":13.44,"v":0.586},{"s":"$100k to $1M","d":13.53,"v":0.64},{"s":"$100k to $1M","d":13.56,"v":0.77},{"s":"$100k to $1M","d":13.63,"v":0.732},{"s":"$100k to $1M","d":13.69,"v":0.759},{"s":"$100k to $1M","d":13.74,"v":0.7},{"s":"$100k to $1M","d":13.83,"v":0.743},{"s":"$100k to $1M","d":13.95,"v":0.71},{"s":"$100k to $1M","d":14.08,"v":0.683},{"s":"$100k to $1M","d":14.29,"v":0.667},{"s":"$100k to $1M","d":14.36,"v":0.624},{"s":"$100k to $1M","d":14.4,"v":0.645},{"s":"$100k to $1M","d":14.5,"v":0.607},{"s":"$100k to $1M","d":14.56,"v":0.672},{"s":"$100k to $1M","d":14.59,"v":0.607},{"s":"$100k to $1M","d":14.64,"v":0.683},{"s":"$100k to $1M","d":14.69,"v":0.651},{"s":"$100k to $1M","d":15.0,"v":0.645},{"s":"$100k to $1M","d":15.07,"v":0.602},{"s":"$100k to $1M","d":15.16,"v":0.678},{"s":"$100k to $1M","d":15.51,"v":0.662},{"s":"$100k to $1M","d":15.6,"v":0.591},{"s":"$100k to $1M","d":15.73,"v":0.613},{"s":"$100k to $1M","d":15.87,"v":0.618},{"s":"$100k to $1M","d":15.95,"v":0.694},{"s":"$100k to $1M","d":16.12,"v":0.634},{"s":"$100k to $1M","d":16.17,"v":0.683},{"s":"$100k to $1M","d":16.28,"v":0.743},{"s":"$100k to $1M","d":16.35,"v":0.694},{"s":"$100k to $1M","d":16.47,"v":0.71},{"s":"$100k to $1M","d":16.56,"v":0.813},{"s":"$100k to $1M","d":16.6,"v":0.716},{"s":"$100k to $1M","d":16.79,"v":0.759},{"s":"$100k to $1M","d":16.92,"v":0.792},{"s":"$100k to $1M","d":17.06,"v":0.998},{"s":"$100k to $1M","d":17.2,"v":0.851},{"s":"$100k to $1M","d":17.36,"v":0.862},{"s":"$100k to $1M","d":17.45,"v":0.797},{"s":"$100k to $1M","d":17.59,"v":0.775},{"s":"$100k to $1M","d":17.75,"v":0.868},{"s":"$100k to $1M","d":17.88,"v":0.797},{"s":"$100k to $1M","d":18.0,"v":0.721},{"s":"$100k to $1M","d":18.2,"v":0.819},{"s":"$100k to $1M","d":18.46,"v":0.83},{"s":"$100k to $1M","d":18.59,"v":0.759},{"s":"$100k to $1M","d":18.63,"v":0.618},{"s":"$100k to $1M","d":18.78,"v":0.683},{"s":"$100k to $1M","d":19.03,"v":0.748},{"s":"$100k to $1M","d":19.1,"v":0.683},{"s":"$100k to $1M","d":19.28,"v":0.656},{"s":"$100k to $1M","d":19.3,"v":0.564},{"s":"$100k to $1M","d":19.44,"v":0.553},{"s":"$100k to $1M","d":19.6,"v":0.456},{"s":"$100k to $1M","d":19.76,"v":0.493},{"s":"$100k to $1M","d":19.99,"v":0.531},{"s":"$100k to $1M","d":20.17,"v":0.624},{"s":"$100k to $1M","d":20.31,"v":0.591},{"s":"$100k to $1M","d":20.36,"v":0.624},{"s":"$100k to $1M","d":20.43,"v":0.542},{"s":"$100k to $1M","d":20.5,"v":0.537},{"s":"$100k to $1M","d":20.59,"v":0.466},{"s":"$100k to $1M","d":20.73,"v":0.483},{"s":"$100k to $1M","d":20.93,"v":0.504},{"s":"$100k to $1M","d":21.07,"v":0.499},{"s":"$100k to $1M","d":21.19,"v":0.51},{"s":"$100k to $1M","d":21.22,"v":0.591},{"s":"$100k to $1M","d":21.32,"v":0.569},{"s":"$100k to $1M","d":21.36,"v":0.591},{"s":"$100k to $1M","d":21.37,"v":0.504},{"s":"$100k to $1M","d":21.44,"v":0.493},{"s":"$100k to $1M","d":21.46,"v":0.575},{"s":"$100k to $1M","d":21.55,"v":0.586},{"s":"$100k to $1M","d":21.58,"v":0.656},{"s":"$100k to $1M","d":21.68,"v":0.586},{"s":"$100k to $1M","d":21.83,"v":0.618},{"s":"$100k to $1M","d":21.87,"v":0.7},{"s":"$100k to $1M","d":21.9,"v":0.629},{"s":"$100k to $1M","d":21.94,"v":0.705},{"s":"$100k to $1M","d":22.0,"v":0.542},{"s":"$100k to $1M","d":22.05,"v":0.58},{"s":"$100k to $1M","d":22.17,"v":0.591},{"s":"$100k to $1M","d":22.33,"v":0.564},{"s":"$100k to $1M","d":22.35,"v":0.515},{"s":"$100k to $1M","d":22.53,"v":0.537},{"s":"$100k to $1M","d":22.72,"v":0.542},{"s":"$100k to $1M","d":22.86,"v":0.499},{"s":"$100k to $1M","d":22.89,"v":0.434},{"s":"$100k to $1M","d":23.08,"v":0.456},{"s":"$100k to $1M","d":23.27,"v":0.472},{"s":"$100k to $1M","d":23.34,"v":0.521},{"s":"$100k to $1M","d":23.4,"v":0.499},{"s":"$100k to $1M","d":23.46,"v":0.624},{"s":"$100k to $1M","d":23.5,"v":0.499},{"s":"$100k to $1M","d":23.57,"v":0.531},{"s":"$100k to $1M","d":23.68,"v":0.472},{"s":"$100k to $1M","d":23.82,"v":0.51},{"s":"$100k to $1M","d":24.0,"v":0.504},{"s":"$100k to $1M","d":24.14,"v":0.466},{"s":"$100k to $1M","d":24.3,"v":0.461}
],
"steps":[
{"s":"$1M to $10M","d":10.16,"v":0.092},{"s":"$1M to $10M","d":10.36,"v":0.174},{"s":"$1M to $10M","d":10.42,"v":0.081},{"s":"$1M to $10M","d":10.43,"v":0.163},{"s":"$1M to $10M","d":10.46,"v":0.081},{"s":"$1M to $10M","d":10.47,"v":0.154},{"s":"$1M to $10M","d":10.54,"v":0.081},{"s":"$1M to $10M","d":10.71,"v":0.154},{"s":"$1M to $10M","d":10.75,"v":0.081},{"s":"$1M to $10M","d":10.84,"v":0.005},{"s":"$1M to $10M","d":11.02,"v":0.146},{"s":"$1M to $10M","d":11.09,"v":0.239},{"s":"$1M to $10M","d":11.38,"v":0.315},{"s":"$1M to $10M","d":11.39,"v":0.239},{"s":"$1M to $10M","d":11.42,"v":0.038},{"s":"$1M to $10M","d":11.44,"v":0.5},{"s":"$1M to $10M","d":11.92,"v":0.428},{"s":"$1M to $10M","d":13.26,"v":0.602},{"s":"$1M to $10M","d":13.35,"v":0.761},{"s":"$1M to $10M","d":13.54,"v":0.927},{"s":"$1M to $10M","d":13.89,"v":1.0},{"s":"$1M to $10M","d":13.95,"v":0.906},{"s":"$1M to $10M","d":14.17,"v":0.808},{"s":"$1M to $10M","d":14.31,"v":0.407},{"s":"$1M to $10M","d":14.43,"v":0.597},{"s":"$1M to $10M","d":14.45,"v":0.515},{"s":"$1M to $10M","d":14.98,"v":0.586},{"s":"$1M to $10M","d":15.61,"v":0.515},{"s":"$1M to $10M","d":16.14,"v":0.759},{"s":"$1M to $10M","d":16.28,"v":0.828},{"s":"$1M to $10M","d":16.57,"v":0.895},{"s":"$1M to $10M","d":16.95,"v":0.828},{"s":"$1M to $10M","d":19.29,"v":0.681},{"s":"$1M to $10M","d":20.91,"v":0.748},{"s":"$1M to $10M","d":21.94,"v":0.586},{"s":"$1M to $10M","d":22.05,"v":0.512},{"s":"$1M to $10M","d":22.86,"v":0.428},{"s":"$1M to $10M","d":23.45,"v":0.355},{"s":"$1M to $10M","d":23.64,"v":0.432},{"s":"$1M to $10M","d":24.05,"v":0.291},{"s":"$1M to $10M","d":24.3,"v":0.291}
],
"flask":[
{"i":0,"d":17.06,"v":0.801},{"i":1,"d":17.06,"v":0.697},{"i":2,"d":16.62,"v":0.495},{"i":3,"d":16.66,"v":0.466},{"i":4,"d":16.76,"v":0.463},{"i":5,"d":17.75,"v":0.463},{"i":6,"d":17.84,"v":0.466},{"i":7,"d":17.87,"v":0.495},{"i":8,"d":17.36,"v":0.697},{"i":9,"d":17.36,"v":0.801}
],
"liquid":[
{"d":16.69,"v":0.479,"b":0.479},{"d":16.79,"v":0.541,"b":0.479},{"d":16.92,"v":0.583,"b":0.479},{"d":17.03,"v":0.567,"b":0.479},{"d":17.17,"v":0.541,"b":0.479},{"d":17.31,"v":0.563,"b":0.479},{"d":17.43,"v":0.599,"b":0.479},{"d":17.54,"v":0.563,"b":0.479},{"d":17.71,"v":0.498,"b":0.479},{"d":17.73,"v":0.479,"b":0.479}
],
"dashes":[
{"d":13.81,"d2":14.69,"v":0.214},{"d":19.69,"d2":20.57,"v":0.214}
]
},
"spacing":12,
"vconcat":[
{
"width":1031,
"height":318,
"view":{"stroke":null},
"layer":[
{
"data":{"name":"backdrop"},
"mark":{"type":"rect","color":"#000000"},
"encoding":{
"x":{"field":"d0","type":"quantitative","scale":{"domain":[10.16,24.3],"nice":false,"zero":false},"axis":null},
"x2":{"field":"d1"},
"y":{"field":"p0","type":"quantitative","scale":{"domain":[65620,78190],"nice":false,"zero":false},
"axis":{"orient":"right","title":"Price (USDT)","titlePadding":7,"grid":false,"domain":false,"labelPadding":15,"tickCount":100,
"values":[66000,66400,66800,67200,67600,68000,68400,68800,69200,69600,70000,70400,70800,71200,71600,72000,72400,72800,73200,73600,74000,74400,74800,75200,75600,76000,76400,76800,77200,77600,78000],
"tickColor":"#000000",
"tickSize":{"condition":{"test":"datum.value%2000==0","value":7},"value":3.5},
"labelExpr":"datum.value%2000==0?format(datum.value/1000,'.2f')+' k':''","labelOverlap":false}},
"y2":{"field":"p1"}
}
},
{
"data":{"name":"heat"},
"mark":{"type":"rect"},
"encoding":{
"x":{"field":"d0","type":"quantitative","scale":{"domain":[10.16,24.3],"nice":false,"zero":false},"axis":null},
"x2":{"field":"d1"},
"y":{"field":"p0","type":"quantitative","scale":{"domain":[65620,78190],"nice":false,"zero":false}},
"y2":{"field":"p1"},
"color":{"field":"v","type":"quantitative",
"scale":{"domain":[10.7,14,17,20,24,25.5,27.5,30,33,36,38.56],"range":["#000000","#3c0000","#6f0000","#a80000","#e01000","#f52a05","#ff6a00","#ff9a00","#ffc400","#ffe810","#ffffff"]},
"legend":{"orient":"none","legendX":-98,"legendY":14,"title":"Vol. (USDT)","titleFontStyle":"italic","titleFontWeight":"normal","titleFontSize":11.5,"titleColor":"#555555","titlePadding":3,"gradientLength":282,"gradientThickness":22,"gradientStrokeColor":"#000000","gradientStrokeWidth":1,"values":[15,20,25,30,35],"labelExpr":"format(datum.value,'.3f')+' M'","labelColor":"#555555","labelFontSize":10,"labelOffset":-4,"padding":0}}
}
},
{
"data":{"name":"price"},
"mark":{"type":"line","color":"#1f77b4","strokeWidth":1.9},
"encoding":{
"x":{"field":"d","type":"quantitative","scale":{"domain":[10.16,24.3],"nice":false,"zero":false},"axis":null},
"y":{"field":"p","type":"quantitative","scale":{"domain":[65620,78190],"nice":false,"zero":false}}
}
},
{
"data":{"values":[{"d":17.75,"p":78870,"t":"Gomzi's Trading REF:53305"}]},
"mark":{"type":"text","font":"Liberation Sans","fontWeight":"bold","fontSize":29,"color":"#000000","baseline":"middle","align":"center"},
"encoding":{
"x":{"field":"d","type":"quantitative","scale":{"domain":[10.16,24.3],"nice":false,"zero":false},"axis":null},
"y":{"field":"p","type":"quantitative","scale":{"domain":[65620,78190],"nice":false,"zero":false}},
"text":{"field":"t"}
}
},
{
"data":{"values":[{"d":10.16,"p":78680,"t":"BTC_USDT@2W"}]},
"mark":{"type":"text","fontWeight":"bold","fontSize":14.3,"color":"#000000","baseline":"middle","align":"left"},
"encoding":{
"x":{"field":"d","type":"quantitative","scale":{"domain":[10.16,24.3],"nice":false,"zero":false},"axis":null},
"y":{"field":"p","type":"quantitative","scale":{"domain":[65620,78190],"nice":false,"zero":false}},
"text":{"field":"t"}
}
}
]
},
{
"width":1031,
"height":307,
"view":{"stroke":"#eeeeee"},
"layer":[
{
"data":{"name":"liquid"},
"mark":{"type":"area","color":"#dff0f2"},
"encoding":{
"x":{"field":"d","type":"quantitative","scale":{"domain":[10.16,24.3],"nice":false,"zero":false},
"axis":{"title":"Date (UTC)","values":[13,16,19,22],"labelExpr":"'3/'+datum.value","gridColor":"#e6e6e6","grid":true,"domainColor":"#333333","domainWidth":1.5,"tickColor":"#333333","tickSize":7,"labelPadding":4,"titlePadding":4}},
"y":{"field":"v","type":"quantitative","scale":{"domain":[0,1],"nice":false},
"axis":{"title":"Norm. CVD (arb. u.)","titlePadding":17,"labelPadding":6,"domainColor":"#333333","domainWidth":1.5,"tickColor":"#333333","grid":true,"tickCount":100,
"values":[0,0.04,0.08,0.12,0.16,0.2,0.24,0.28,0.32,0.36,0.4,0.44,0.48,0.52,0.56,0.6,0.64,0.68,0.72,0.76,0.8,0.84,0.88,0.92,0.96,1],
"tickSize":{"condition":{"test":"round(datum.value*100)%20==0","value":6},"value":3},
"gridColor":{"condition":{"test":"round(datum.value*100)%20==0","value":"#e6e6e6"},"value":"transparent"},
"labelExpr":"datum.value==0?'0.00':datum.value==1?'1.00':round(datum.value*100)%20==0?format(datum.value*1000,'.2f')+' m':''","labelOverlap":false}},
"y2":{"field":"b"}
}
},
{
"data":{"name":"flask"},
"mark":{"type":"line","color":"#d2d2d2","strokeWidth":6,"strokeCap":"round","strokeJoin":"round"},
"encoding":{
"x":{"field":"d","type":"quantitative","scale":{"domain":[10.16,24.3],"nice":false,"zero":false}},
"y":{"field":"v","type":"quantitative","scale":{"domain":[0,1],"nice":false}},
"order":{"field":"i"}
}
},
{
"data":{"name":"dashes"},
"mark":{"type":"rule","color":"#d2d2d2","strokeWidth":1.5},
"encoding":{
"x":{"field":"d","type":"quantitative","scale":{"domain":[10.16,24.3],"nice":false,"zero":false}},
"x2":{"field":"d2"},
"y":{"field":"v","type":"quantitative","scale":{"domain":[0,1],"nice":false}}
}
},
{
"data":{"values":[{"d":17.22,"v":0.345,"t":"M\u2009A\u2009T\u2009E\u2009R\u2009I\u2009A\u2009L\u2009 \u2009I\u2009N\u2009D\u2009I\u2009C\u2009A\u2009T\u2009O\u2009R\u2009S"}]},
"mark":{"type":"text","font":"Roboto","fontWeight":"bold","fontSize":34.5,"color":"#d2d2d2","baseline":"middle","align":"center"},
"encoding":{
"x":{"field":"d","type":"quantitative","scale":{"domain":[10.16,24.3],"nice":false,"zero":false}},
"y":{"field":"v","type":"quantitative","scale":{"domain":[0,1],"nice":false}},
"text":{"field":"t"}
}
},
{
"data":{"values":[{"d":17.2,"v":0.214,"t":"T H E\u2003S C I E N C E\u2003O F\u2003T R A D I N G"}]},
"mark":{"type":"text","font":"Roboto","fontSize":19.7,"color":"#d2d2d2","baseline":"middle","align":"center"},
"encoding":{
"x":{"field":"d","type":"quantitative","scale":{"domain":[10.16,24.3],"nice":false,"zero":false}},
"y":{"field":"v","type":"quantitative","scale":{"domain":[0,1],"nice":false}},
"text":{"field":"t"}
}
},
{
"data":{"name":"cvd"},
"mark":{"type":"line","strokeWidth":1.7},
"encoding":{
"x":{"field":"d","type":"quantitative","scale":{"domain":[10.16,24.3],"nice":false,"zero":false}},
"y":{"field":"v","type":"quantitative","scale":{"domain":[0,1],"nice":false}},
"color":{"field":"s","type":"nominal",
"scale":{"domain":["all orders","$100 to $1k","$1k to $10k","$10k to $100k","$100k to $1M","$1M to $10M"],"range":["#1f77b4","#ff7f0e","#2ca02c","#d62728","#9467bd","#8c564b"]},
"legend":{"orient":"none","legendX":1031,"legendY":169,"title":null,"symbolType":"stroke","symbolStrokeWidth":2,"symbolSize":300,"labelFontSize":11.8,"labelColor":"#555555","rowPadding":3.4,"padding":8,"strokeColor":"#f0f0f0","fillColor":"#ffffff","labelOffset":4}}
}
},
{
"data":{"name":"steps"},
"mark":{"type":"line","strokeWidth":1.7,"interpolate":"step-after"},
"encoding":{
"x":{"field":"d","type":"quantitative","scale":{"domain":[10.16,24.3],"nice":false,"zero":false}},
"y":{"field":"v","type":"quantitative","scale":{"domain":[0,1],"nice":false}},
"color":{"field":"s","type":"nominal",
"scale":{"domain":["all orders","$100 to $1k","$1k to $10k","$10k to $100k","$100k to $1M","$1M to $10M"],"range":["#1f77b4","#ff7f0e","#2ca02c","#d62728","#9467bd","#8c564b"]},
"legend":{"orient":"none","legendX":1031,"legendY":169,"title":null,"symbolType":"stroke","symbolStrokeWidth":2,"symbolSize":300,"labelFontSize":11.8,"labelColor":"#555555","rowPadding":3.4,"padding":8,"strokeColor":"#f0f0f0","fillColor":"#ffffff","labelOffset":4}}
}
}
]
}
]
}
